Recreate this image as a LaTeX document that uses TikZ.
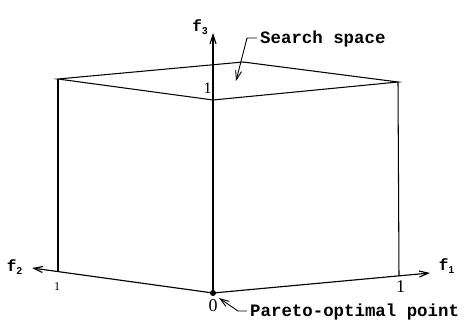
\documentclass[tikz,border=0pt]{standalone}
\usepackage{fontspec}
\setmainfont{Liberation Serif}
\newfontfamily\courfont{Liberation Mono}
\newfontfamily\lsansfont{Liberation Sans}
\usetikzlibrary{arrows.meta,calc}
\newcommand\flab[1]{{\fontsize{16}{16}\selectfont\courfont\bfseries f}\raisebox{-3pt}{\fontsize{10}{10}\selectfont\lsansfont\bfseries #1}}
\tikzset{
  edge/.style={line width=1.05pt},
  axis/.style={line width=1.15pt,-{Straight Barb[length=9pt,width=6pt]}},
  lead/.style={line width=0.9pt,-{Straight Barb[length=9pt,width=6pt]}},
  lbl/.style={inner sep=0pt},
  num/.style={inner sep=0pt,font=\fontsize{#1}{#1}\selectfont},
  ttext/.style={inner sep=0pt,anchor=base west,font=\fontsize{17.4}{20}\selectfont\courfont\bfseries},
}
\begin{document}
\begin{tikzpicture}[x=1pt,y=-1pt]
\useasboundingbox (0,0) rectangle (466,320);
% cube corners
\coordinate (L) at (58,79);
\coordinate (B) at (243,62);
\coordinate (R) at (398,82);
\coordinate (F) at (213,100);
\coordinate (A2) at (58,272);
\coordinate (A1) at (399,276);
\coordinate (T1) at (430,273);
\coordinate (T2) at (32,268);
\coordinate (T3) at (213,33);
\node[circle,fill,inner sep=0pt,minimum size=6pt] (O) at (213,293) {};
% cube
\draw[edge] (L) -- (B) -- (R) -- (F) -- cycle;
\draw[edge] (L) -- (A2);
\draw[edge] (R) -- (A1);
% axes
\draw[axis] (O.center) -- (T1);
\draw[axis] (O.center) -- (T2);
\draw[axis] (O.center) -- (T3);
% axis labels
\node[lbl] (f1) at (446.5,266.5) {\flab{1}};
\node[lbl] (f2) at (14.5,267.5) {\flab{2}};
\node[lbl] (f3) at (200,27) {\flab{3}};
% numbers
\node[num=16] (n1t) at (207.5,88.5) {1};
\node[num=12] (n1l) at (57,286.5) {1};
\node[num=18] (n1r) at (400.5,286.5) {1};
\node[num=18] (n0) at (213,305.5) {0};
% texts
\node[ttext] (ss) at (260,44) {Search space};
\node[ttext] (po) at (250,316.5) {Pareto-optimal point};
% leaders
\coordinate (s2) at (247,38);
\coordinate (s3) at (236,81);
\draw[lead] ([xshift=-3pt,yshift=6pt]ss.base west) -- (s2) -- (s3);
\coordinate (p2) at (238,311);
\coordinate (p3) at (219,298);
\draw[lead] ([xshift=-3pt,yshift=5.5pt]po.base west) -- (p2) -- (p3);
\end{tikzpicture}
\end{document}
